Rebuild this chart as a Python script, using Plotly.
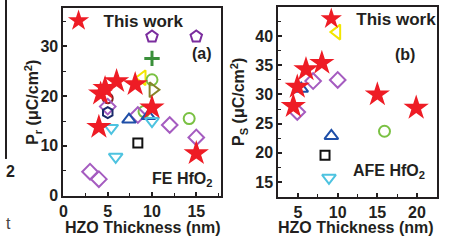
import plotly.graph_objects as go

W, H = 450, 246

# ---------------- Panel (a): FE HfO2, Pr ----------------
a_star_x = [4.0, 4.2, 4.7, 6.0, 8.1, 10.0, 15.0]
a_star_y = [13.8, 20.5, 21.6, 23.0, 22.4, 17.7, 8.5]

a_pent_x = [10.0, 15.0]
a_pent_y = [32.0, 32.0]
a_plus_x = [10.0]
a_plus_y = [27.6]
a_yel_x = [8.9]
a_yel_y = [23.7]
a_gcirc_x = [10.0, 9.1, 14.2]
a_gcirc_y = [23.3, 16.9, 15.5]
a_olive_x = [10.1]
a_olive_y = [21.3]
a_dred_x = [5.0]
a_dred_y = [19.6]
a_diam_x = [5.0, 8.4, 12.0, 15.0, 3.0, 4.0]
a_diam_y = [17.9, 16.2, 14.2, 11.7, 4.8, 3.3]
a_hex_x = [5.0]
a_hex_y = [16.7]
a_btri_x = [7.4, 9.6]
a_btri_y = [15.3, 16.0]
a_cyan_x = [10.0, 5.4, 5.9]
a_cyan_y = [15.0, 13.6, 7.8]
a_sq_x = [8.4]
a_sq_y = [10.6]

# ---------------- Panel (b): AFE HfO2, Ps ----------------
b_star_x = [4.4, 4.9, 6.0, 8.0, 15.0, 19.9]
b_star_y = [28.0, 31.3, 34.3, 35.4, 30.0, 27.7]
b_yel_x = [9.9]
b_yel_y = [40.7]
b_diam_x = [6.9, 10.0, 4.9]
b_diam_y = [32.3, 32.5, 27.0]
b_btri_x = [5.4, 9.2]
b_btri_y = [31.0, 22.9]
b_gcirc_x = [15.9]
b_gcirc_y = [23.7]
b_sq_x = [8.4]
b_sq_y = [19.6]
b_cyan_x = [8.9]
b_cyan_y = [15.7]

RED = "#ee1c25"
PURPLE = "#7b2d9e"
GREEN = "#3a8f3a"
YELLOW = "#f2e600"
LGREEN = "#7ac143"
OLIVE = "#85852a"
DRED = "#7b1f1f"
VIOLET = "#a55cc0"
NAVY = "#1b2a6b"
BLUE = "#1f4fa8"
CYAN = "#4ec3e0"
BLACK = "#111111"
TXT = "#231f20"

FONT = "Liberation Sans, Arial, sans-serif"

fig = go.Figure()


def open_marker(x, y, sym, color, size, xa, ya, lw=2):
    fig.add_trace(go.Scatter(
        x=x, y=y, mode="markers", xaxis=xa, yaxis=ya, showlegend=False,
        marker=dict(symbol=sym, size=size, color=color,
                    line=dict(color=color, width=lw)),
        hoverinfo="x+y"))


# panel a references
open_marker(a_pent_x, a_pent_y, "pentagon-open", PURPLE, 12, "x", "y")
open_marker(a_plus_x, a_plus_y, "cross-thin-open", GREEN, 11, "x", "y", lw=3)
open_marker(a_yel_x, a_yel_y, "triangle-left-open", YELLOW, 13, "x", "y")
open_marker(a_gcirc_x, a_gcirc_y, "circle-open", LGREEN, 11, "x", "y")
open_marker(a_olive_x, a_olive_y, "triangle-right-open", OLIVE, 13, "x", "y")
open_marker(a_dred_x, a_dred_y, "circle-open", DRED, 10, "x", "y")
open_marker(a_diam_x, a_diam_y, "diamond-open", VIOLET, 12, "x", "y")
open_marker(a_hex_x, a_hex_y, "hexagon-open", NAVY, 11, "x", "y")
open_marker(a_btri_x, a_btri_y, "triangle-up-open", BLUE, 12, "x", "y")
open_marker(a_cyan_x, a_cyan_y, "triangle-down-open", CYAN, 12, "x", "y")
open_marker(a_sq_x, a_sq_y, "square-open", BLACK, 9, "x", "y")

fig.add_trace(go.Scatter(x=a_star_x, y=a_star_y, mode="markers", xaxis="x", yaxis="y",
                         name="This work", legend="legend",
                         marker=dict(symbol="star", size=19, color=RED,
                                     line=dict(width=0))))

# panel b references
open_marker(b_yel_x, b_yel_y, "triangle-left-open", YELLOW, 13, "x2", "y2")
open_marker(b_diam_x, b_diam_y, "diamond-open", VIOLET, 12, "x2", "y2")
open_marker(b_btri_x, b_btri_y, "triangle-up-open", BLUE, 12, "x2", "y2")
open_marker(b_gcirc_x, b_gcirc_y, "circle-open", LGREEN, 11, "x2", "y2")
open_marker(b_sq_x, b_sq_y, "square-open", BLACK, 9, "x2", "y2")
open_marker(b_cyan_x, b_cyan_y, "triangle-down-open", CYAN, 12, "x2", "y2")

fig.add_trace(go.Scatter(x=b_star_x, y=b_star_y, mode="markers", xaxis="x2", yaxis="y2",
                         name="This work", legend="legend2",
                         marker=dict(symbol="star", size=19, color=RED,
                                     line=dict(width=0))))

tickfont = dict(family=FONT, size=16, color=TXT, weight="bold")


def axis(domain, rng, dtick, minor, anchor):
    return dict(domain=domain, range=rng, dtick=dtick, tick0=0, anchor=anchor,
                showline=True, linewidth=2, linecolor=TXT, mirror=True,
                ticks="inside", ticklen=4, tickwidth=1.5, tickcolor=TXT,
                minor=dict(dtick=minor, ticks="inside", ticklen=2.5, tickwidth=1.2,
                           tickcolor=TXT),
                showgrid=False, zeroline=False, tickfont=tickfont)


legfont = dict(family=FONT, size=17, color=TXT, weight="bold")
fig.update_layout(
    width=W, height=H,
    margin=dict(l=0, r=0, t=0, b=0),
    paper_bgcolor="white", plot_bgcolor="white",
    xaxis=axis([60 / W, 219 / W], [0, 17.8], 5, 2.5, "y"),
    yaxis=axis([1 - 203 / H, 1 - 8 / H], [0, 37.8], 10, 5, "x"),
    xaxis2=axis([276.7 / W, 436.7 / W], [2.5, 22.5], 5, 2.5, "y2"),
    yaxis2=axis([1 - 204 / H, 1 - 7 / H], [12.5, 45.05], 5, 2.5, "x2"),
    legend=dict(x=50 / W, y=1 - 22 / H, xanchor="left", yanchor="middle",
                bgcolor="rgba(0,0,0,0)", borderwidth=0, itemwidth=40,
                font=legfont),
    legend2=dict(x=305 / W, y=1 - 20 / H, xanchor="left", yanchor="middle",
                 bgcolor="rgba(0,0,0,0)", borderwidth=0, itemwidth=40,
                 font=legfont),
)

tfont = dict(family=FONT, size=16, color=TXT, weight="bold")
ann = [
    dict(text="HZO Thickness (nm)", x=140 / W, y=1 - 236 / H),
    dict(text="HZO Thickness (nm)", x=355 / W, y=1 - 236 / H),
    dict(text="P<sub>r</sub> (μC/cm<sup>2</sup>)", x=29 / W, y=1 - 106 / H, textangle=-90),
    dict(text="P<sub>S</sub> (μC/cm<sup>2</sup>)", x=237 / W, y=1 - 106 / H, textangle=-90),
    dict(text="(a)", x=200 / W, y=1 - 56 / H),
    dict(text="(b)", x=405 / W, y=1 - 57 / H),
    dict(text="FE HfO<sub>2</sub>", x=180 / W, y=1 - 186 / H),
    dict(text="AFE HfO<sub>2</sub>", x=388 / W, y=1 - 178 / H),
]
annotations = []
for a in ann:
    d = dict(xref="paper", yref="paper", showarrow=False, font=tfont,
             xanchor="center", yanchor="middle")
    d.update(a)
    annotations.append(d)

# fragments of the neighbouring figure at the left edge
annotations.append(dict(text="2", x=0, y=1 - 178 / H, xref="paper", yref="paper",
                        showarrow=False, xanchor="left", yanchor="middle",
                        font=dict(family=FONT, size=16, color=TXT, weight="bold")))
annotations.append(dict(text="t", x=0, y=1 - 232 / H, xref="paper", yref="paper",
                        showarrow=False, xanchor="left", yanchor="middle",
                        font=dict(family=FONT, size=16, color="#444444")))
fig.update_layout(annotations=annotations)

fig.add_shape(type="line", xref="paper", yref="paper", x0=2 / W, x1=2 / W,
              y0=1 - 165 / H, y1=1, line=dict(color=TXT, width=2))

fig.write_html("out.html",
               config={"displayModeBar": False},
               post_script="document.body.style.margin='0px';document.body.style.overflow='hidden';")
